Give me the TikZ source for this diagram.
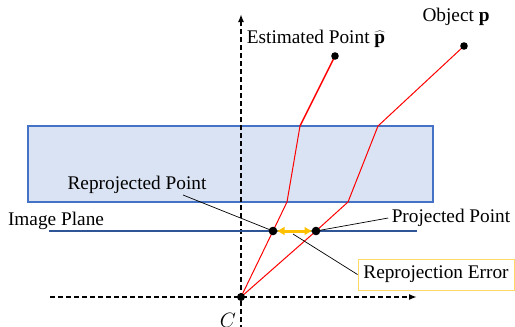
\documentclass[tikz,border=0pt]{standalone}
\usepackage{fontspec}
\setmainfont{Liberation Serif}
\usetikzlibrary{arrows.meta}
\definecolor{planefill}{HTML}{DAE3F3}
\definecolor{planeedge}{HTML}{4472C4}
\definecolor{imgline}{HTML}{2F5597}
\definecolor{errarrow}{HTML}{FFC000}
\definecolor{errbox}{HTML}{FFD966}

\begin{document}
\begin{tikzpicture}[x=1pt,y=-1pt,
  axis/.style={-{Latex[length=8pt,width=6pt]},line width=1.6pt,dash pattern=on 5pt off 3pt},
  ray/.style={draw=red,line width=1pt},
  leader/.style={draw=black,line width=0.7pt},
  dot/.style={fill=black},
  label/.style={font=\fontsize{19.3}{23}\selectfont,text=black},
]
\useasboundingbox (0,0) rectangle (515,327);
% camera centre and axes
\coordinate (C) at (241,297);
\coordinate (ybot) at (241,330);
\coordinate (ytop) at (241,14);
\coordinate (xbeg) at (50,297);
\coordinate (xend) at (417,297);
% refracting slab
\draw[draw=planeedge,line width=1.1pt,fill=planefill] (28,126) rectangle (433,202);
\draw[axis] (ybot) -- (ytop);
\draw[axis] (xbeg) -- (xend);
% image plane
\coordinate (ipl) at (49,231);
\coordinate (ipr) at (417,231);
\draw[draw=imgline,line width=2.6pt] (ipl) -- (ipr);
% rays
\coordinate (rp) at (273,231);
\coordinate (pp) at (316,231);
\coordinate (phat) at (335,56);
\coordinate (pobj) at (464,46);
\coordinate (rpbot) at (287,202);
\coordinate (rptop) at (300,126);
\coordinate (ppbot) at (348,202);
\coordinate (pptop) at (378,126);
\draw[ray] (C) -- (rp) -- (rpbot) -- (rptop);
\draw[ray,line width=1.4pt] (rptop) -- (phat);
\draw[ray] (C) -- (pp) -- (ppbot) -- (pptop) -- (pobj);
% labels
\node[label] (estlabel) at (316,39) {Estimated Point $\widehat{\textbf{p}}$};
\node[label] (objlabel) at (456,17) {Object \textbf{p}};
\node[label] (rplabel) at (137,185) {Reprojected Point};
\node[label] (iplabel) at (56,221) {Image Plane};
\node[label] (pplabel) at (451,218) {Projected Point};
\node[label,draw=errbox,line width=1pt,fill=white,minimum width=156pt,minimum height=31pt] (errlabel) at (436,274.5) {Reprojection Error};
\node[label] (clabel) at (228,320) {$C$};
\coordinate (rplead) at (183,195);
\coordinate (errlead) at (293,234);
\draw[leader] (rplead) -- (rp);
\draw[leader] (pp) -- (pplabel.west);
\draw[leader] (errlead) -- (errlabel.west);
% points
\fill[dot] (C) circle (4);
\fill[dot] (phat) circle (3.8);
\fill[dot] (pobj) circle (3.8);
\fill[dot] (rp) circle (4.3);
\fill[dot] (pp) circle (4.3);
% reprojection error
\draw[{Latex[length=8pt,width=9pt]}-{Latex[length=8pt,width=9pt]},draw=errarrow,line width=3pt,shorten <=3.5pt,shorten >=3.5pt] (rp) -- (pp);
\end{tikzpicture}
\end{document}
